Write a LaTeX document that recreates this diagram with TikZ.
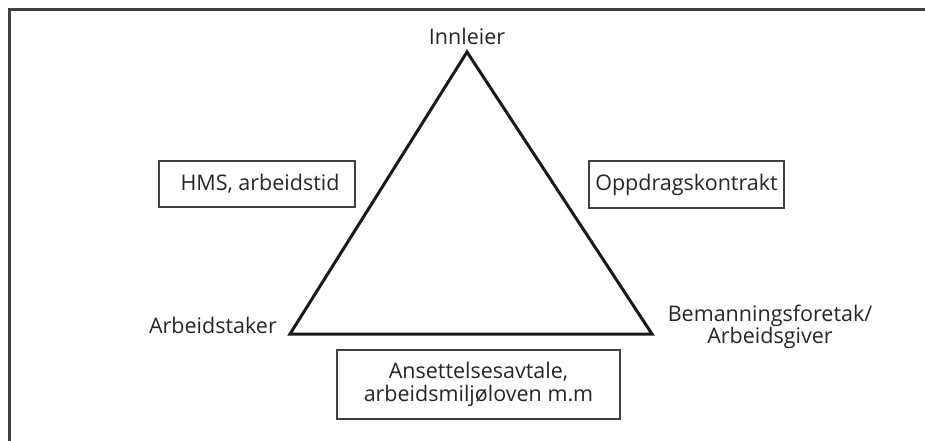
\documentclass[tikz,border=0pt]{standalone}
\usepackage{fontspec}
\setmainfont{Open Sans}
\begin{document}
\begin{tikzpicture}[x=1pt,y=-1pt,
  lbl/.style={font=\fontsize{21.5}{22.5}\selectfont, text=black!85, inner sep=0pt, align=center},
  boxed/.style={lbl, draw=black!75, line width=1.5pt},
  tri/.style={line width=3pt, black!90, line join=miter},
  frame/.style={line width=3pt, black!75}]
\useasboundingbox (0,0) rectangle (925,441);
\clip (0,0) rectangle (925,441);
\draw[frame] (935,10) -- (9.5,10) -- (9.5,450);
\coordinate (apex) at (467,52);
\coordinate (bl) at (290,334);
\coordinate (br) at (652,334);
\draw[tri] (apex) -- (br) -- (bl) -- cycle;
\node[lbl, anchor=base] (inn) at (467,45) {Innleier};
\node[lbl, anchor=base east] (arb) at (277,333) {Arbeidstaker};
\node[lbl] (bem) at (770,327) {Bemanningsforetak/\\Arbeidsgiver};
\node[boxed, minimum width=196pt, minimum height=46pt] (hms) at (257,184) {\hspace*{6pt}HMS, arbeidstid};
\node[boxed, minimum width=195pt, minimum height=47pt] (opp) at (686.5,184.5) {Oppdragskontrakt};
\node[boxed, minimum width=283pt, minimum height=69pt] (ans) at (478.5,384.5) {Ansettelsesavtale,\\arbeidsmiljøloven m.m};
\end{tikzpicture}
\end{document}
